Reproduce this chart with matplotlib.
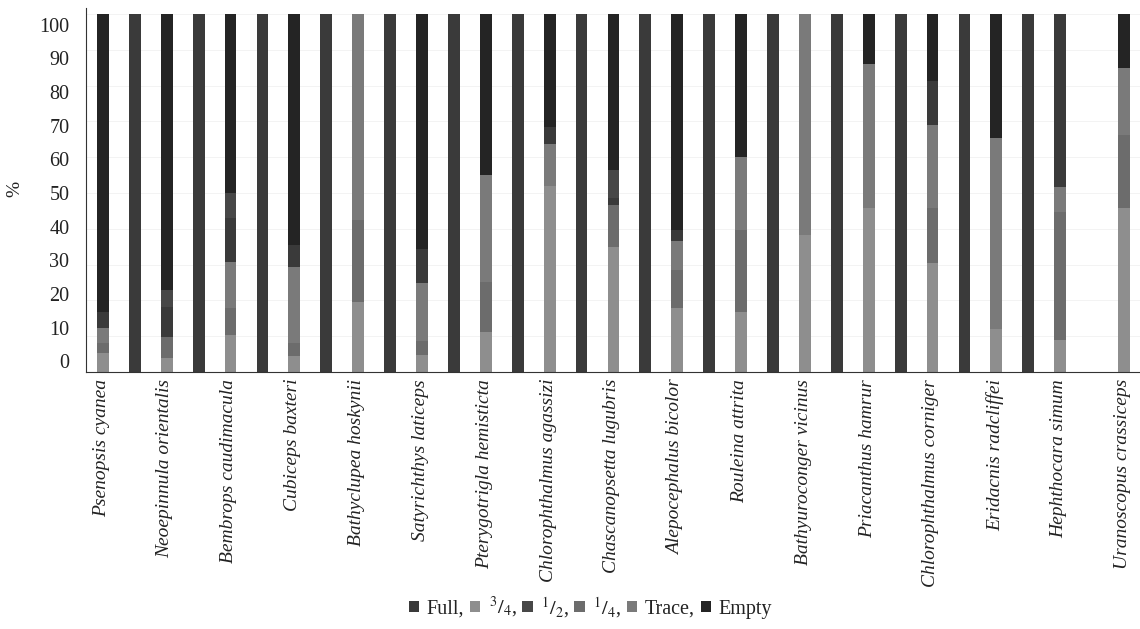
import matplotlib
matplotlib.use("Agg")
import matplotlib.pyplot as plt
import numpy as np

plt.rcParams['font.family'] = ['Liberation Serif', 'DejaVu Serif']
plt.rcParams['mathtext.fontset'] = 'stix'

# 33 bar positions; labels shown on every other bar (the rest unlabeled)
tick_labels = ["Psenopsis cyanea", "", "Neoepinnula orientalis", "", "Bembrops caudimacula", "",
               "Cubiceps baxteri", "", "Bathyclupea hoskynii", "", "Satyrichthys laticeps", "",
               "Pterygotrigla hemisticta", "", "Chlorophthalmus agassizi", "", "Chascanopsetta lugubris", "",
               "Alepocephalus bicolor", "", "Rouleina attrita", "", "Bathyuroconger vicinus", "",
               "Priacanthus hamrur", "", "Chlorophthalmus corniger", "", "Eridacnis radcliffei", "",
               "Hephthocara simum", "", "Uranoscopus crassiceps"]

three_q = [5.2, 0, 3.8, 0, 10.3, 0, 4.5, 0, 19.6, 0, 4.7, 0, 11.3, 0, 52.0, 0, 35.0, 0,
           17.8, 0, 16.8, 0, 38.3, 0, 45.7, 0, 30.4, 0, 12.0, 0, 8.9, 0, 45.7]
one_q = [2.8, 0, 6.1, 0, 7.5, 0, 3.5, 0, 22.9, 0, 4.0, 0, 13.9, 0, 0, 0, 11.6, 0,
         10.7, 0, 22.9, 0, 0, 0, 0, 0, 15.3, 0, 0, 0, 35.9, 0, 20.5]
trace = [4.2, 0, 0, 0, 13.0, 0, 21.4, 0, 57.5, 0, 16.1, 0, 29.8, 0, 11.7, 0, 0, 0,
         8.2, 0, 20.4, 0, 61.7, 0, 40.3, 0, 23.3, 0, 53.3, 0, 6.8, 0, 18.6]
full = [4.6, 100, 8.3, 100, 12.1, 100, 6.1, 100, 0, 100, 9.7, 100, 0, 100, 4.8, 100, 1.9, 100,
        3.0, 100, 0, 100, 0, 100, 0, 100, 12.3, 100, 0, 100, 48.4, 0, 0]
half = [0, 0, 4.7, 0, 7.0, 0, 0, 0, 0, 0, 0, 0, 0, 0, 0, 0, 7.9, 0,
        0, 0, 0, 0, 0, 0, 0, 0, 0, 0, 0, 0, 0, 0, 0]
empty = [83.2, 0, 77.1, 0, 50.1, 0, 64.5, 0, 0, 0, 65.5, 0, 45.0, 0, 31.5, 0, 43.6, 0,
         60.3, 0, 39.9, 0, 0, 0, 14.0, 0, 18.7, 0, 34.7, 0, 0, 0, 15.2]

y_ticks = [0, 10, 20, 30, 40, 50, 60, 70, 80, 90, 100]

# stacking order bottom -> top, with colours
stack = [("3/4", three_q, "#8e8e8e"),
         ("1/4", one_q, "#6c6c6c"),
         ("Trace", trace, "#7a7a7a"),
         ("Full", full, "#3a3a3a"),
         ("1/2", half, "#474747"),
         ("Empty", empty, "#242424")]

fig = plt.figure(figsize=(11.40, 6.29), dpi=100)
ax = fig.add_axes([0.0754, 0.4086, 0.9246, 0.5787])

x = np.arange(len(tick_labels))
bottom = np.zeros(len(x))
handles = {}
for name, vals, col in stack:
    v = np.array(vals, dtype=float)
    bc = ax.bar(x, v, bottom=bottom, width=0.37, color=col, linewidth=0, zorder=2)
    handles[name] = bc
    bottom += v

ax.set_xlim(-0.53, 32.5)
ax.set_ylim(0, 101.7)

# y tick labels (slightly compressed toward centre as in the reference)
ax.set_yticks([50 + (v - 50) * 0.941 for v in y_ticks])
ax.set_yticklabels([str(v) for v in y_ticks], fontsize=14.5, color="#222222")
ax.tick_params(axis='y', length=0, pad=12)
for v in y_ticks:
    ax.axhline(v, color="#f1f1f1", lw=0.6, zorder=1)

ax.set_xticks(x - 0.05)
ax.set_xticklabels(tick_labels, rotation=90, fontsize=14.0, fontstyle='italic',
                   color="#222222", va='top', ha='center')
ax.tick_params(axis='x', length=0, pad=5)

for s in ['top', 'right']:
    ax.spines[s].set_visible(False)
ax.spines['left'].set_color('#333333')
ax.spines['bottom'].set_color('#333333')
ax.spines['left'].set_linewidth(0.8)
ax.spines['bottom'].set_linewidth(0.8)

fig.text(0.013, 0.70, "%", rotation=90, fontsize=14, va='center', ha='center', color="#222222")

leg_order = [("Full", "Full,"), ("3/4", r"$^{3}/_{4}$,"), ("1/2", r"$^{1}/_{2}$,"),
             ("1/4", r"$^{1}/_{4}$,"), ("Trace", "Trace,"), ("Empty", "Empty")]
fig.legend([handles[k] for k, _ in leg_order], [lab for _, lab in leg_order],
           loc='center', bbox_to_anchor=(0.518, 0.034), ncol=6, frameon=False,
           fontsize=14.5, handlelength=0.5, handleheight=0.5, handletextpad=0.4,
           columnspacing=0.3, labelcolor="#222222")

fig.savefig("out.png", dpi=100, facecolor="white")
